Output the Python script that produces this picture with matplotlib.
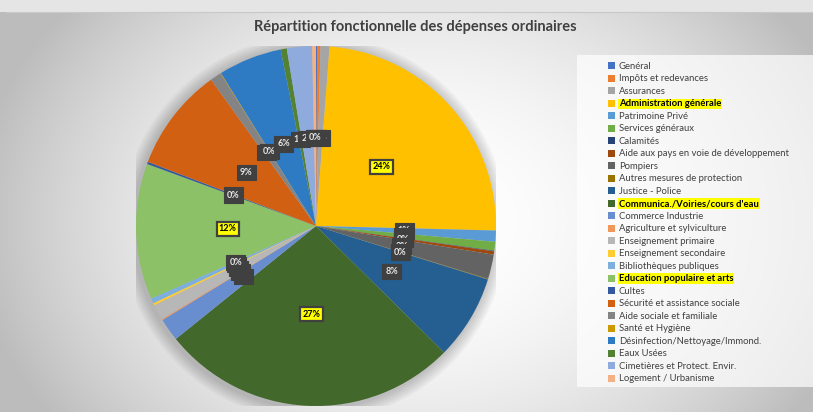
import numpy as np
import matplotlib.pyplot as plt
from matplotlib.patches import Patch, Rectangle

categories = [
    "Genéral", "Impôts et redevances", "Assurances", "Administration générale",
    "Patrimoine Privé", "Services généraux", "Calamités",
    "Aide aux pays en voie de développement", "Pompiers",
    "Autres mesures de protection", "Justice - Police",
    "Communica./Voiries/cours d'eau", "Commerce Industrie",
    "Agriculture et sylviculture", "Enseignement primaire",
    "Enseignement secondaire", "Bibliothèques publiques",
    "Education populaire et arts", "Cultes", "Sécurité et assistance sociale",
    "Aide sociale et familiale", "Santé et Hygiène",
    "Désinfection/Nettoyage/Immond.", "Eaux Usées",
    "Cimetières et Protect. Envir.", "Logement / Urbanisme",
]
# parts in %
values = [0.1, 0.3, 0.8, 24.2, 1.0, 0.8, 0.05, 0.3, 2.2, 0.05, 7.6, 26.8,
          2.05, 0.1, 1.4, 0.2, 0.45, 12.2, 0.2, 9.3, 1.0, 0.05, 5.7, 0.55,
          2.25, 0.35]
highlight = ["Administration générale", "Communica./Voiries/cours d'eau",
             "Education populaire et arts"]

colors = ["#4472C4", "#ED7D31", "#A5A5A5", "#FFC000", "#5B9BD5", "#70AD47",
          "#264478", "#9E480E", "#636363", "#997300", "#255E91", "#43682B",
          "#698ED0", "#F1975A", "#B7B7B7", "#FFCD33", "#7CAFDD", "#8CC168",
          "#335AA1", "#D26012", "#848484", "#CC9A00", "#2E7BC4", "#548235",
          "#8FAADC", "#F4B183"]

W, H = 813, 412
fig = plt.figure(figsize=(W / 100, H / 100), dpi=100)

# background: light gradient like the Excel chart area
bg = fig.add_axes([0, 0, 1, 1])
yy, xx = np.mgrid[0:H, 0:W]
d = np.sqrt(((xx - 420) / 430.0) ** 2 + ((yy - 220) / 330.0) ** 2)
shade = np.clip(1.0 - 0.24 * d ** 2, 0.74, 1.0)
shade[:12, :] = 0.90
img = np.dstack([shade, shade, shade])
bg.imshow(img, extent=[0, W, H, 0], aspect="auto")
bg.plot([6, W], [12, 12], color="#c8c8c8", lw=0.8)
bg.add_patch(Rectangle((577, 55), W - 577, 332, fc="white", ec="none",
                       alpha=0.7))
bg.set_xlim(0, W); bg.set_ylim(H, 0)
bg.axis("off")

# soft shadow under the pie
cx, cy, r = 316, 226, 180
ax = fig.add_axes([(cx - r) / W, 1 - (cy + r) / H, 2 * r / W, 2 * r / H])
for k in range(6):
    ax.add_patch(plt.Circle((-0.01, -0.01), 1.0 + 0.012 * (k + 1),
                            color="black", alpha=0.035, lw=0, zorder=0))

wedges, _ = ax.pie(values, colors=colors, startangle=90, counterclock=False,
                   radius=1.0, wedgeprops=dict(linewidth=0))
ax.set_aspect("equal")
ax.set_xlim(-1.0, 1.0); ax.set_ylim(-1.0, 1.0)
ax.axis("off")

# percent labels, placed like Excel at about half the radius
for w, name, v in zip(wedges, categories, values):
    ang = np.deg2rad((w.theta1 + w.theta2) / 2)
    x, y = 0.49 * np.cos(ang), 0.49 * np.sin(ang)
    lab = f"{int(round(v))}%"
    if name in highlight:
        ax.text(x, y, lab, ha="center", va="center", fontsize=6.5,
                fontweight="bold", color="black", family="Lato",
                bbox=dict(boxstyle="square,pad=0.25", fc="#FFFF00",
                          ec="#404040", lw=1.6), zorder=5)
    else:
        ax.text(x, y, lab, ha="center", va="center", fontsize=6.5,
                fontweight="bold", color="#e8e8e8", family="Lato",
                bbox=dict(boxstyle="square,pad=0.35", fc="#404040",
                          ec="#404040", lw=0.8), zorder=5)

fig.text(415 / W, 1 - 27 / H, "Répartition fonctionnelle des dépenses ordinaires",
         ha="center", va="center", fontsize=10.5, fontweight="bold",
         color="#404040", family="Lato")

handles = [Patch(facecolor=c, edgecolor="none") for c in colors]
leg = fig.legend(handles, categories, loc="upper left",
                 bbox_to_anchor=(608 / W, 1 - 62 / H), frameon=False,
                 handlelength=0.75, handleheight=0.75,
                 handletextpad=0.4, labelspacing=0.37, borderpad=0,
                 borderaxespad=0, prop=dict(family="Lato", size=6.8))
for t in leg.get_texts():
    t.set_color("#404040")
    if t.get_text() in highlight:
        t.set_color("black")
        t.set_fontweight("bold")
        t.set_bbox(dict(boxstyle="square,pad=0.1", fc="#FFFF00", ec="none"))

fig.savefig("out.png", dpi=100)
